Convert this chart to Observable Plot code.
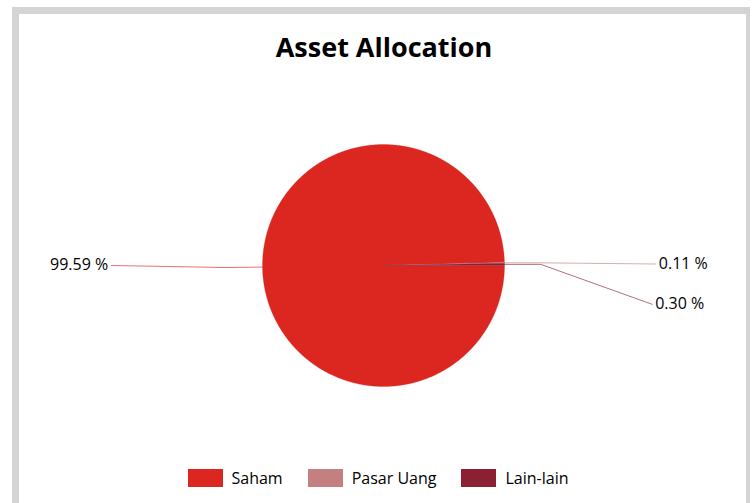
<!DOCTYPE html>
<html><head><meta charset="utf-8">
<script src="https://cdn.jsdelivr.net/npm/d3@7"></script>
<script src="https://cdn.jsdelivr.net/npm/@observablehq/plot@0.6"></script>
<style>
body{margin:0;background:#fff;width:752px;height:503px;overflow:hidden;position:relative;font-family:"Open Sans",sans-serif}
#frame{position:absolute;left:12px;top:7px;width:727px;height:520px;border:7px solid #d4d4d4;border-right-width:4px;border-bottom:none;box-sizing:content-box}
#title{position:absolute;left:0;width:768px;top:31px;text-align:center;font-weight:bold;font-size:27px;color:#000;line-height:32px}
#chart{position:absolute;left:0;top:0}
#legend{position:absolute;top:467px;left:0;width:756px;display:flex;justify-content:center;align-items:center;gap:25px;font-size:16px;color:#000}
.item{display:flex;align-items:center;gap:9px}
.sw{width:35px;height:18px}
</style></head>
<body>
<div id="frame"></div>
<div id="chart"></div>
<div id="title">Asset Allocation</div>
<div id="legend"></div>
<script>
const categories = ["Saham", "Pasar Uang", "Lain-lain"];
const values = [99.59, 0.11, 0.30];
const labels = ["99.59 %", "0.11 %", "0.30 %"];
const colors = ["#dc2620", "#c48080", "#8b2035"];

// layout (pixels -> unit-radius coordinates)
const W = 752, H = 503, CX = 383, CY = 265, R = 121;
const arcs = d3.pie().sort(null).startAngle(Math.PI / 2).endAngle(Math.PI / 2 + 2 * Math.PI)(values);

const slicePts = [];
arcs.forEach((a, i) => {
  slicePts.push({c: categories[i], x: 0, y: 0});
  const n = Math.max(2, Math.ceil((a.endAngle - a.startAngle) / 0.005));
  for (let k = 0; k <= n; k++) {
    const t = a.startAngle + (a.endAngle - a.startAngle) * k / n;
    slicePts.push({c: categories[i], x: Math.sin(t), y: Math.cos(t)});
  }
});

// leader lines and labels
const labelX = 2.25, elbowR = 1.3;
const leaderPts = [], labelPts = [];
arcs.forEach((a, i) => {
  const m = (a.startAngle + a.endAngle) / 2;
  const ex = Math.sin(m), ey = Math.cos(m);
  const side = ex < 0 ? -1 : 1;
  const dy = i === 2 ? -0.33 : (i === 0 ? 0.013 : -0.01);
  const ly = ey + dy;
  const elbowY = ey - (i === 0 ? 0.004 : 0);
  const shift = i === 2 ? 0.03 : 0;
  leaderPts.push({c: categories[i], x: ex, y: ey});
  leaderPts.push({c: categories[i], x: side * elbowR, y: elbowY});
  leaderPts.push({c: categories[i], x: side * (labelX - shift), y: ly});
  labelPts.push({c: categories[i], label: labels[i], x: side * (labelX + 0.025 - shift), y: ly + 0.005, anchor: side < 0 ? "end" : "start"});
});

const chart = Plot.plot({
  width: W, height: H,
  margin: 0,
  x: {domain: [-CX / R, (W - CX) / R], range: [0, W], axis: null},
  y: {domain: [-(H - CY) / R, CY / R], range: [H, 0], axis: null},
  color: {domain: categories, range: colors},
  style: {background: "transparent", fontFamily: "Open Sans, sans-serif"},
  marks: [
    Plot.line(slicePts, {x: "x", y: "y", z: "c", fill: "c", stroke: "c", strokeWidth: 0.3, curve: "linear-closed"}),
    Plot.line(leaderPts, {x: "x", y: "y", z: "c", stroke: "c", strokeOpacity: 0.65, strokeWidth: 1}),
    Plot.text(labelPts.filter(d => d.anchor === "end"), {x: "x", y: "y", text: "label", textAnchor: "end", fontSize: 16, fill: "#000"}),
    Plot.text(labelPts.filter(d => d.anchor === "start"), {x: "x", y: "y", text: "label", textAnchor: "start", fontSize: 16, fill: "#000"})
  ]
});
document.getElementById("chart").append(chart);

const legend = document.getElementById("legend");
categories.forEach((c, i) => {
  const it = document.createElement("div");
  it.className = "item";
  it.innerHTML = `<div class="sw" style="background:${colors[i]}"></div><span>${c}</span>`;
  legend.append(it);
});
</script>
</body></html>
